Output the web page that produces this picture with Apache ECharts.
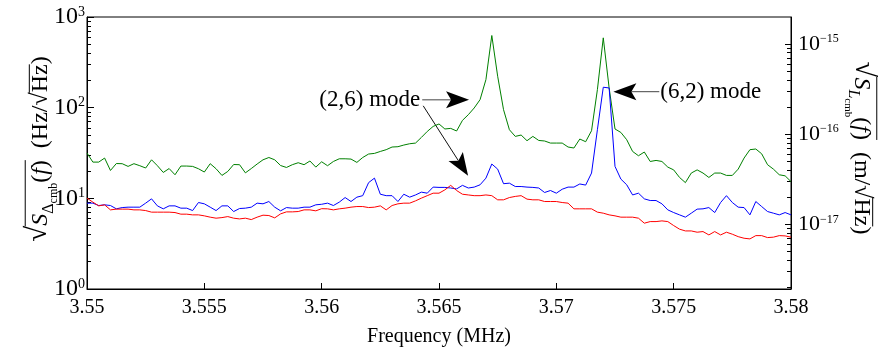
<!DOCTYPE html>
<html>
<head>
<meta charset="utf-8">
<script src="https://cdn.jsdelivr.net/npm/echarts@6/dist/echarts.min.js"></script>
<style>
  html, body { margin: 0; padding: 0; background: #fff; }
  #chart { width: 878px; height: 351px; }
</style>
</head>
<body>
<div id="chart"></div>
<script>
// frequency grid (MHz): one sample every 0.25 kHz from 3.55 to 3.58
const freqStart = 3.55;
const freqStep = 0.00025;

// sqrt(S_Delta_cmb) - green trace
const greenValues = [
  31.6, 25.1, 25.1, 27.8, 20.3, 24.2, 24.1, 22.5, 24.1, 22.9,
  21.6, 26.6, 22.9, 19.3, 21.3, 18.2, 22.7, 22.7, 22.5, 21.2,
  19.5, 24.1, 21.2, 17.9, 19.8, 23.6, 23.5, 19.1, 21.3, 23.9,
  26.6, 28.2, 26.6, 23.0, 21.9, 23.5, 24.7, 23.5, 25.8, 22.1,
  25.3, 22.9, 25.5, 27.3, 27.3, 27.1, 24.9, 28.2, 30.8, 31.3,
  32.9, 34.4, 36.8, 37.1, 38.7, 40.0, 40.7, 47.0, 54.7, 62.1,
  66.1, 58.2, 59.1, 55.3, 72.4, 83.7, 99.2, 122.6, 204, 625,
  222, 95.0, 57.1, 48.2, 49.9, 43.2, 48.2, 43.5, 42.9, 40.7,
  40.7, 40.7, 36.8, 35.9, 45.1, 42.1, 55.7, 158, 589, 165,
  58.2, 53.3, 44.3, 32.9, 29.5, 32.4, 25.5, 26.2, 25.5, 22.1,
  20.6, 17.0, 14.9, 19.0, 20.6, 19.0, 17.0, 19.0, 19.0, 17.9,
  17.9, 21.0, 27.8, 34.4, 35.0, 31.0, 23.5, 21.0, 18.2, 17.7,
  15.3
];

// blue trace
const blueValues = [
  8.85, 8.85, 8.33, 8.48, 8.33, 7.66, 7.91, 7.99, 7.99, 7.99,
  8.85, 9.87, 8.26, 7.66, 8.26, 8.26, 7.79, 7.79, 7.33, 8.99,
  8.70, 7.99, 7.33, 8.26, 8.26, 7.15, 7.72, 7.79, 7.99, 8.85,
  8.70, 9.22, 7.99, 7.28, 7.91, 7.79, 7.79, 7.99, 7.99, 8.48,
  8.6, 8.85, 8.33, 9.08, 10.2, 9.22, 10.3, 10.7, 14.9, 16.7,
  11.1, 10.7, 10.7, 9.22, 11.1, 10.3, 10.9, 11.7, 11.4, 13.3,
  13.2, 13.2, 13.0, 12.7, 13.9, 13.0, 13.3, 14.1, 16.7, 23.9,
  21.0, 14.5, 14.7, 13.5, 13.5, 13.3, 13.2, 13.0, 11.6, 12.2,
  11.4, 12.6, 13.3, 13.3, 14.4, 14.0, 19.0, 57.1, 168, 165,
  22.5, 16.3, 14.1, 10.9, 11.4, 9.87, 9.46, 9.46, 8.70, 7.46,
  6.97, 6.57, 6.20, 6.86, 7.60, 7.66, 7.91, 6.97, 8.99, 10.7,
  8.99, 7.99, 7.91, 6.57, 9.22, 8.12, 7.15, 6.86, 6.57, 6.97,
  6.57
];

// red trace
const redValues = [
  10.05, 9.08, 8.26, 8.48, 7.46, 7.60, 7.60, 7.60, 7.46, 7.46,
  7.33, 7.04, 7.04, 7.04, 7.04, 6.97, 6.69, 6.69, 6.57, 6.57,
  6.41, 6.20, 6.04, 6.13, 6.29, 6.04, 5.93, 6.04, 5.83, 6.20,
  6.52, 6.46, 6.09, 6.74, 7.09, 7.09, 7.15, 7.46, 7.46, 7.28,
  7.69, 7.66, 7.46, 7.66, 7.79, 7.99, 8.12, 8.12, 7.91, 7.99,
  8.26, 7.46, 8.33, 8.70, 8.85, 8.85, 9.38, 10.05, 10.7, 11.4,
  11.4, 12.4, 13.9, 12.2, 11.1, 10.9, 10.7, 10.7, 10.9, 10.7,
  9.63, 9.63, 10.2, 10.5, 10.7, 9.80, 9.63, 9.63, 9.22, 9.22,
  9.22, 8.99, 8.85, 7.66, 7.66, 7.66, 7.66, 7.04, 6.86, 6.57,
  6.41, 6.20, 6.20, 6.20, 6.04, 5.32, 5.54, 5.54, 5.64, 5.54,
  5.01, 4.57, 4.37, 4.37, 4.23, 4.30, 3.95, 4.30, 3.95, 4.23,
  4.02, 3.78, 3.63, 3.57, 3.88, 3.88, 3.69, 3.73, 3.88, 3.85,
  3.73
];

// axis ranges and minor tick positions
const leftRange = [1, 1000];
const rightRange = [Math.pow(10, -17.715), Math.pow(10, -14.703)];
const minorMantissas = [2, 3, 4, 5, 6, 7, 8, 9];
const leftDecades = [1, 10, 100];
const rightDecades = [1e-18, 1e-17, 1e-16];

// annotations, in data coordinates (frequency, left-axis value)
const mode26Label = '(2,6) mode';
const mode26Anchor = [3.5642, 122];
const mode26TipUpper = [3.56628, 122];
const mode26TipLower = [3.56624, 17.7];
const mode62Label = '(6,2) mode';
const mode62Anchor = [3.57443, 150];
const mode62Tip = [3.57243, 150];

const serif = '"Liberation Serif", "Times New Roman", serif';
const chart = echarts.init(document.getElementById('chart'), null, { renderer: 'canvas' });

const toPoints = (values) => values.map((v, i) => [+(freqStart + i * freqStep).toFixed(5), v]);
const minorOf = (decades) => decades.flatMap((d) => minorMantissas.map((m) => m * d));

const gridBox = { left: 87, right: 87, top: 17, bottom: 62, containLabel: false, outerBoundsMode: 'none' };
const black = '#000';

const line = (name, values, color) => ({
  name,
  type: 'line',
  xAxisIndex: 0,
  yAxisIndex: 0,
  data: toPoints(values),
  symbol: 'none',
  showSymbol: false,
  silent: true,
  lineStyle: { width: 1, color },
  itemStyle: { color }
});

const minorAxis = (gridIndex, range, position, values) => ({
  gridIndex,
  type: 'log',
  logBase: 10,
  min: range[0],
  max: range[1],
  position,
  axisLine: { show: false },
  axisLabel: { show: false },
  axisTick: { show: true, inside: true, length: 4, lineStyle: { color: black, width: 1 }, customValues: values },
  splitLine: { show: false }
});

chart.setOption({
  animation: false,
  backgroundColor: '#fff',
  grid: [
    { ...gridBox, show: true, borderColor: black, borderWidth: 1 },
    { ...gridBox, show: false }
  ],
  xAxis: [
    {
      gridIndex: 0,
      type: 'value',
      min: 3.55,
      max: 3.58,
      interval: 0.005,
      axisLine: { show: true, lineStyle: { color: black, width: 1 } },
      axisTick: { show: true, inside: true, length: 6, lineStyle: { color: black, width: 1 } },
      axisLabel: {
        margin: 9,
        color: black,
        fontFamily: serif,
        fontSize: 20,
        formatter: (v) => String(+v.toFixed(4))
      },
      splitLine: { show: false },
      name: 'Frequency (MHz)',
      nameLocation: 'middle',
      nameGap: 38,
      nameTextStyle: { color: black, fontFamily: serif, fontSize: 20 }
    },
    { gridIndex: 1, type: 'value', min: 3.55, max: 3.58, show: false }
  ],
  yAxis: [
    {
      gridIndex: 0,
      type: 'log',
      logBase: 10,
      min: leftRange[0],
      max: leftRange[1],
      position: 'left',
      axisLine: { show: true, lineStyle: { color: black, width: 1 } },
      axisTick: { show: true, inside: true, length: 7, lineStyle: { color: black, width: 1 } },
      axisLabel: {
        margin: 2,
        formatter: (v) => `{b|10}{s|${Math.round(Math.log10(v))}}`,
        rich: {
          b: { fontFamily: serif, fontSize: 24, lineHeight: 24, color: black, verticalAlign: 'bottom' },
          s: { fontFamily: serif, fontSize: 14, lineHeight: 14, color: black, verticalAlign: 'top' }
        }
      },
      splitLine: { show: false }
    },
    {
      gridIndex: 0,
      type: 'log',
      logBase: 10,
      min: rightRange[0],
      max: rightRange[1],
      position: 'right',
      axisLine: { show: true, lineStyle: { color: black, width: 1 } },
      axisTick: { show: true, inside: true, length: 6, lineStyle: { color: black, width: 1 } },
      axisLabel: {
        margin: 7,
        showMinLabel: false,
        showMaxLabel: false,
        formatter: (v) => {
          const e = Math.log10(v);
          if (Math.abs(e - Math.round(e)) > 0.01) return '';
          return `{b|10}{s|\u2212${-Math.round(e)}}`;
        },
        rich: {
          b: { fontFamily: serif, fontSize: 22, lineHeight: 22, color: black, verticalAlign: 'bottom' },
          s: { fontFamily: serif, fontSize: 12, lineHeight: 12, color: black, verticalAlign: 'top', padding: [0, 0, 16, 0] }
        }
      },
      splitLine: { show: false }
    },
    minorAxis(1, leftRange, 'left', minorOf(leftDecades)),
    minorAxis(1, rightRange, 'right', minorOf(rightDecades))
  ],
  series: [
    line('green', greenValues, '#008000'),
    line('blue', blueValues, '#0000ff'),
    line('red', redValues, '#ff0000')
  ]
});

// ---- rotated axis titles with radical overlines ----
const measure = document.createElement('canvas').getContext('2d');
function mathTitle(parts, cx, cy, rotation) {
  let x = 0;
  const items = parts.map((p) => {
    const font = `${p.it ? 'italic ' : ''}${p.s}px ${serif}`;
    measure.font = font;
    const w = measure.measureText(p.t).width;
    const item = { p, font, x, w };
    x += w;
    return item;
  });
  const half = x / 2;
  const children = items.map((it) => ({
    type: 'text',
    x: it.x - half,
    y: (it.p.dy || 0) - 0.35 * it.p.s + 8,
    style: { text: it.p.t, font: it.font, fill: black, align: 'left', verticalAlign: 'middle' }
  }));
  [1, 2].forEach((k) => {
    const group = items.filter((it) => it.p.o === k);
    if (!group.length) return;
    const root = items[items.indexOf(group[0]) - 1];
    const last = group[group.length - 1];
    const y = 8 - 0.82 * root.p.s;
    children.push({
      type: 'line',
      shape: { x1: root.x + root.w - half - 0.5, y1: y, x2: last.x + last.w - half, y2: y },
      style: { stroke: black, lineWidth: 1 }
    });
  });
  return { type: 'group', x: cx, y: cy, rotation, children };
}

const leftTitle = mathTitle([
  { t: '\u221A', s: 29 },
  { t: 'S', s: 24, it: 1, o: 1 },
  { t: '\u0394', s: 16, dy: 5, o: 1 },
  { t: 'cmb', s: 12, dy: 9, o: 1 },
  { t: '(', s: 24, o: 1 },
  { t: 'f', s: 24, it: 1, o: 1 },
  { t: ')', s: 24, o: 1 },
  { t: '  (Hz/', s: 24 },
  { t: '\u221A', s: 24 },
  { t: 'Hz', s: 24, o: 2 },
  { t: ')', s: 24 }
], 41, 149, Math.PI / 2);

const rightTitle = mathTitle([
  { t: '\u221A', s: 29 },
  { t: 'S', s: 24, it: 1, o: 1 },
  { t: 'L', s: 16, it: 1, dy: 5, o: 1 },
  { t: 'cmb', s: 11, dy: 9, o: 1 },
  { t: '(', s: 24, o: 1 },
  { t: 'f', s: 24, it: 1, o: 1 },
  { t: ')', s: 24, o: 1 },
  { t: '  (m/', s: 24 },
  { t: '\u221A', s: 24 },
  { t: 'Hz', s: 24, o: 2 },
  { t: ')', s: 24 }
], 861, 148, -Math.PI / 2);

// ---- annotation arrows ----
const px = (p) => chart.convertToPixel({ xAxisIndex: 0, yAxisIndex: 0 }, p);
function arrow(from, tip, color) {
  const dx = tip[0] - from[0];
  const dy = tip[1] - from[1];
  const len = Math.hypot(dx, dy);
  const ux = dx / len, uy = dy / len;
  const nx = -uy, ny = ux;
  const L = 23, W = 8.5, N = 18;
  return [
    { type: 'line', shape: { x1: from[0], y1: from[1], x2: tip[0] - N * ux, y2: tip[1] - N * uy }, style: { stroke: color, lineWidth: 1 } },
    {
      type: 'polygon',
      shape: { points: [
        [tip[0], tip[1]],
        [tip[0] - L * ux + W * nx, tip[1] - L * uy + W * ny],
        [tip[0] - N * ux, tip[1] - N * uy],
        [tip[0] - L * ux - W * nx, tip[1] - L * uy - W * ny]
      ] },
      style: { fill: black }
    }
  ];
}

const a26 = px(mode26Anchor);
const a62 = px(mode62Anchor);
const annoFont = `23px ${serif}`;
chart.setOption({
  graphic: { elements: [
    leftTitle,
    rightTitle,
    { type: 'text', x: a26[0], y: a26[1], style: { text: mode26Label, font: annoFont, fill: black, align: 'right', verticalAlign: 'middle' } },
    ...arrow([a26[0] + 2, a26[1]], px(mode26TipUpper), '#444'),
    ...arrow([a26[0] + 3, a26[1] + 6], px(mode26TipLower), '#111'),
    { type: 'text', x: a62[0], y: a62[1], style: { text: mode62Label, font: annoFont, fill: black, align: 'left', verticalAlign: 'middle' } },
    ...arrow([a62[0] - 1, a62[1]], px(mode62Tip), '#444')
  ] }
});
</script>
</body>
</html>
